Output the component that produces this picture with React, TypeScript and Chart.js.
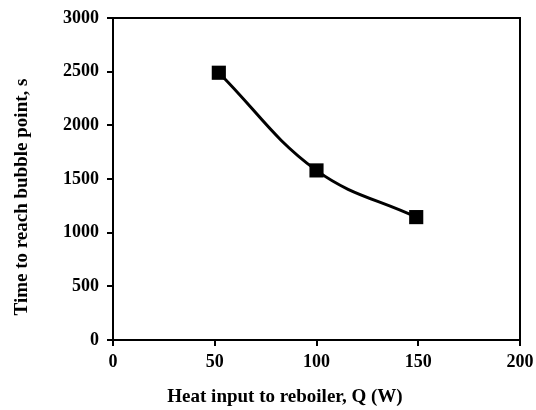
import React, { useEffect, useRef } from "react";
import { Chart, registerables } from "chart.js";

Chart.register(...registerables);

const heatInput = [52, 100, 149];
const bubbleTime = [2490, 1580, 1145];
const xTitle = "Heat input to reboiler, Q (W)";
const yTitle = "Time to reach bubble point, s";

const FONT = "'Liberation Serif', 'Times New Roman', serif";

const boxPlugin = {
  id: "boxPlugin",
  afterDatasetsDraw(chart: any) {
    const { ctx, chartArea } = chart;
    ctx.save();
    ctx.strokeStyle = "#000";
    ctx.lineWidth = 2;
    ctx.strokeRect(chartArea.left, chartArea.top, chartArea.right - chartArea.left, chartArea.bottom - chartArea.top);
    ctx.restore();
  },
  afterDraw(chart: any) {
    const { ctx } = chart;
    ctx.save();
    ctx.fillStyle = "#000";
    ctx.font = `bold 19px ${FONT}`;
    ctx.textAlign = "center";
    ctx.textBaseline = "middle";
    ctx.fillText(xTitle, 285, 397);
    ctx.translate(22, 197);
    ctx.rotate(-Math.PI / 2);
    ctx.fillText(yTitle, 0, 0);
    ctx.restore();
  },
};

export default function App() {
  const ref = useRef<HTMLCanvasElement>(null);
  useEffect(() => {
    document.body.style.margin = "0";
    const chart = new Chart(ref.current!, {
      type: "line",
      data: {
        datasets: [
          {
            data: heatInput.map((x, i) => ({ x, y: bubbleTime[i] })),
            borderColor: "#000",
            backgroundColor: "#000",
            borderWidth: 3,
            tension: 0.4,
            pointStyle: "rect",
            pointRadius: 10,
            pointBorderWidth: 0,
            pointBackgroundColor: "#000",
          },
        ],
      },
      options: {
        animation: false,
        responsive: false,
        layout: { padding: { left: 0, right: 16, top: 18, bottom: 0 } },
        plugins: { legend: { display: false }, tooltip: { enabled: false } },
        scales: {
          x: {
            type: "linear",
            min: 0,
            max: 200,
            ticks: { stepSize: 50, color: "#000", padding: 6, font: { family: FONT, size: 18, weight: "bold" }, callback: (v: any) => String(v) },
            grid: { display: true, drawOnChartArea: false, color: "#000", tickLength: 6, lineWidth: 2 },
            border: { display: true, color: "#000", width: 2 },
            afterFit(scale: any) { scale.height = 70; scale.paddingRight = 0; scale.paddingLeft = 0; },
          },
          y: {
            min: 0,
            max: 3000,
            ticks: { stepSize: 500, color: "#000", padding: 8, font: { family: FONT, size: 18, weight: "bold" }, callback: (v: any) => String(v) },
            grid: { display: true, drawOnChartArea: false, color: "#000", tickLength: 6, lineWidth: 2 },
            border: { display: true, color: "#000", width: 2 },
            afterFit(scale: any) { scale.width = 113; scale.paddingTop = 0; scale.paddingBottom = 0; },
          },
        },
      },
      plugins: [boxPlugin],
    });
    return () => chart.destroy();
  }, []);
  return (
    <div style={{ position: "absolute", left: 0, top: 0, width: 536, height: 410 }}>
      <canvas ref={ref} width={536} height={410} />
    </div>
  );
}
